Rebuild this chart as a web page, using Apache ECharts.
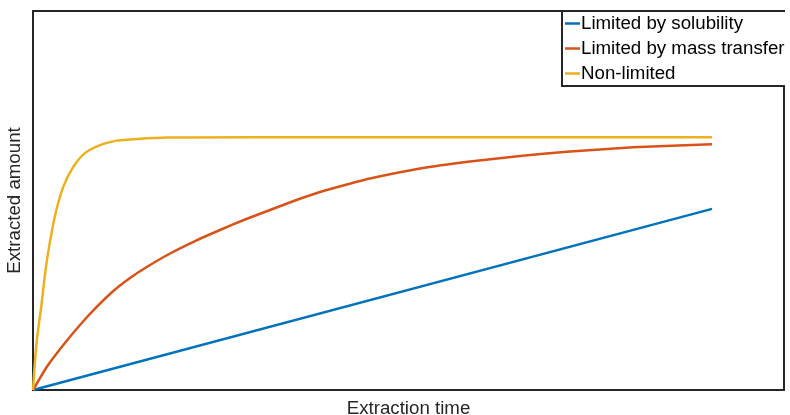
<!DOCTYPE html>
<html>
<head>
<meta charset="utf-8">
<script src="https://cdn.jsdelivr.net/npm/echarts@6/dist/echarts.min.js"></script>
<style>html,body{margin:0;padding:0;background:#fff}#c{width:790px;height:415px}</style>
</head>
<body>
<div id="c"></div>
<script>
const seriesNames = ['Limited by solubility', 'Limited by mass transfer', 'Non-limited'];
const seriesColors = ['#0072BD', '#D95319', '#EDB120'];

const solubilityTime = [0, 100];
const solubilityAmount = [0, 47.8];

const massTransferTime = [0, 2.02, 4.46, 6.92, 9.38, 11.83, 14.29, 16.75, 20.18, 23.86, 27.54, 31.22, 34.90, 38.59, 42.27, 45.95, 49.63, 56.99, 64.36, 71.72, 78.60, 88.37, 100];
const massTransferAmount = [0, 6.07, 11.87, 17.15, 21.90, 26.12, 29.55, 32.45, 36.02, 39.31, 42.22, 44.99, 47.49, 50.0, 52.24, 54.09, 55.80, 58.44, 60.29, 61.74, 62.88, 64.04, 64.83];

const nonLimitedTime = [0, 0.5, 1.28, 1.77, 2.25, 3.24, 4.46, 5.94, 7.66, 9.87, 12.3, 14.3, 19.7, 32, 100];
const nonLimitedAmount = [0, 12, 23, 30.5, 36.5, 46, 53.6, 58.9, 62.5, 64.6, 65.8, 66.1, 66.6, 66.7, 66.7];

const xLabel = 'Extraction time';
const yLabel = 'Extracted amount';

function pairs(xs, ys) { return xs.map((x, i) => [x, ys[i]]); }

const chart = echarts.init(document.getElementById('c'), null, {renderer: 'canvas'});
const font = 'Liberation Sans, Arial, Helvetica, sans-serif';
const allData = [
  pairs(solubilityTime, solubilityAmount),
  pairs(massTransferTime, massTransferAmount),
  pairs(nonLimitedTime, nonLimitedAmount)
];
const smoothing = [false, 0.15, 0.3];

chart.setOption({
  animation: false,
  backgroundColor: '#fff',
  grid: {left: 33, top: 11, right: 6, bottom: 25, show: true, borderColor: '#262626', borderWidth: 2,
         backgroundColor: '#fff', containLabel: false, outerBoundsMode: 'none'},
  xAxis: {
    type: 'value', min: 0, max: 110.6,
    name: xLabel, nameLocation: 'middle', nameGap: 9,
    nameTextStyle: {fontFamily: font, fontSize: 18.7, color: '#262626'},
    axisLine: {show: false}, axisTick: {show: false}, axisLabel: {show: false}, splitLine: {show: false}
  },
  yAxis: {
    type: 'value', min: 0, max: 100,
    name: yLabel, nameLocation: 'middle', nameGap: 9, nameRotate: 90,
    nameTextStyle: {fontFamily: font, fontSize: 18.7, color: '#262626'},
    axisLine: {show: false}, axisTick: {show: false}, axisLabel: {show: false}, splitLine: {show: false}
  },
  legend: {
    orient: 'vertical', left: 562, top: 11,
    icon: 'rect', itemWidth: 15, itemHeight: 2.5, itemGap: 6,
    padding: [3, 4, 3, 3],
    borderColor: '#262626', borderWidth: 2, backgroundColor: '#fff',
    textStyle: {fontFamily: font, fontSize: 18.7, color: '#000', padding: [0, 0, 0, -4]},
    data: seriesNames
  },
  series: seriesNames.map((n, i) => ({
    name: n, type: 'line', data: allData[i],
    smooth: smoothing[i],
    showSymbol: false, symbol: 'none',
    lineStyle: {color: seriesColors[i], width: 2.5, join: 'round'},
    itemStyle: {color: seriesColors[i]}
  })),
  graphic: [{
    type: 'rect', left: 785, top: 0, shape: {width: 10, height: 95},
    style: {fill: '#fff'}, z: 1000
  }]
});
</script>
</body>
</html>
